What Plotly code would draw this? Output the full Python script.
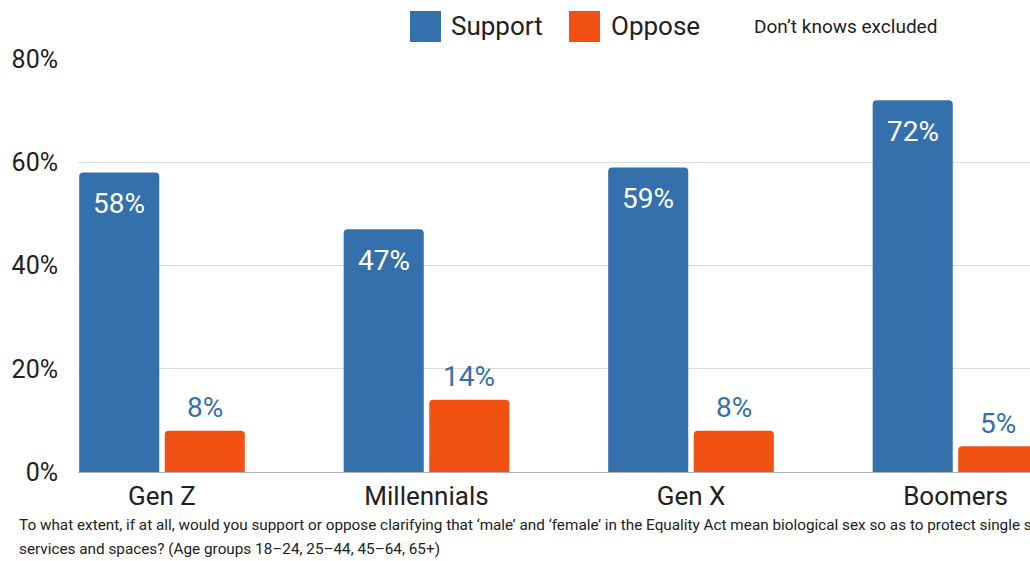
import plotly.graph_objects as go

categories = ["Gen Z", "Millennials", "Gen X", "Boomers"]
support = [58, 47, 59, 72]
oppose = [8, 14, 8, 5]
y_ticks = [0, 20, 40, 60, 80]
y_ticktext = ["0%", "20%", "40%", "60%", "80%"]
legend_names = ["Support", "Oppose"]
note_text = "Don\u2019t knows excluded"
footnote_1 = ("To what extent, if at all, would you support or oppose clarifying that \u2018male\u2019 and "
              "\u2018female\u2019 in the Equality Act mean biological sex so as to protect single sex")
footnote_2 = "services and spaces? (Age groups 18\u201324, 25\u201344, 45\u201364, 65+)"

BLUE = "#3470AB"
ORANGE = "#F15214"
FONT = "Roboto"
TXT = "#212121"

W, H = 1030, 561
L, R, T, B = 78, 0, 59, 89
PW, PH = W - L - R, H - T - B


def px(x):
    return (x - L) / PW


def py(y):
    return (H - B - y) / PH


fig = go.Figure()
fig.add_trace(go.Bar(name=legend_names[0], x=categories, y=support, marker_color=BLUE,
                     marker_line_width=0, showlegend=False))
fig.add_trace(go.Bar(name=legend_names[1], x=categories, y=oppose, marker_color=ORANGE,
                     marker_line_width=0, showlegend=False))

annotations = []
for c, s, o in zip(categories, support, oppose):
    annotations.append(dict(x=c, y=s, xref="x", yref="y", text=f"{s}%", showarrow=False,
                            xshift=-42.8, yshift=-31, yanchor="middle",
                            font=dict(family=FONT, size=28, color="white")))
    annotations.append(dict(x=c, y=o, xref="x", yref="y", text=f"{o}%", showarrow=False,
                            xshift=42.8, yshift=23, yanchor="middle",
                            font=dict(family=FONT, size=28, color=BLUE)))

# legend (custom, large swatches)
shapes = [
    dict(type="rect", xref="paper", yref="paper", x0=px(410), x1=px(441), y0=py(42), y1=py(11),
         fillcolor=BLUE, line_width=0),
    dict(type="rect", xref="paper", yref="paper", x0=px(569), x1=px(600), y0=py(42), y1=py(11),
         fillcolor=ORANGE, line_width=0),
]
annotations += [
    dict(x=px(449), y=py(26), xref="paper", yref="paper", text=legend_names[0], showarrow=False,
         xanchor="left", yanchor="middle", font=dict(family=FONT, size=26, color=TXT)),
    dict(x=px(609), y=py(26), xref="paper", yref="paper", text=legend_names[1], showarrow=False,
         xanchor="left", yanchor="middle", font=dict(family=FONT, size=26, color=TXT)),
    dict(x=px(752), y=py(26), xref="paper", yref="paper", text=note_text, showarrow=False,
         xanchor="left", yanchor="middle", font=dict(family=FONT, size=19, color=TXT)),
    dict(x=px(17), y=py(525), xref="paper", yref="paper", text=footnote_1, showarrow=False,
         xanchor="left", yanchor="middle", font=dict(family=FONT, size=15.3, color=TXT)),
    dict(x=px(17), y=py(549), xref="paper", yref="paper", text=footnote_2, showarrow=False,
         xanchor="left", yanchor="middle", font=dict(family=FONT, size=15.3, color=TXT)),
]

fig.update_layout(
    width=W, height=H,
    margin=dict(l=L, r=R, t=T, b=B, pad=0),
    paper_bgcolor="white", plot_bgcolor="white",
    barmode="group", bargap=0.353, bargroupgap=0.064,
    barcornerradius=4,
    showlegend=False,
    shapes=shapes,
    annotations=annotations,
    font=dict(family=FONT, color=TXT),
)
fig.update_xaxes(type="category", range=[-0.3176, 3.2817], showgrid=False,
                 showline=True, linecolor="#b0b0b0", linewidth=1,
                 tickfont=dict(family=FONT, size=26, color=TXT), ticks="",
                 ticklabelstandoff=1)
fig.update_yaxes(range=[0, 80], tickvals=y_ticks, ticktext=y_ticktext,
                 showgrid=True, gridcolor="#dcdcdc", gridwidth=1, zeroline=False,
                 showline=False, ticks="",
                 tickfont=dict(family=FONT, size=25, color=TXT), ticklabelstandoff=19)

fig.write_html("out.html", config={"displayModeBar": False},
               post_script="document.body.style.margin='0';document.body.style.overflow='hidden';")
